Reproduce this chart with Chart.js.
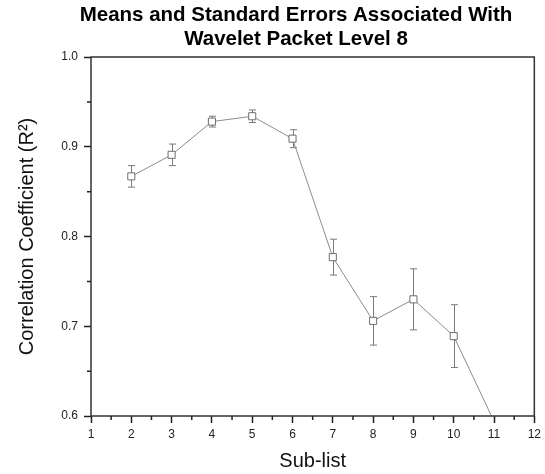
<!DOCTYPE html>
<html>
<head>
<meta charset="utf-8">
<script src="https://cdn.jsdelivr.net/npm/chart.js@4.4.0/dist/chart.umd.min.js"></script>
<style>
  html, body { margin: 0; padding: 0; background: #fff; }
  #wrap { width: 545px; height: 474px; }
</style>
</head>
<body>
<div id="wrap"><canvas id="myChart"></canvas></div>
<script>
// values
const subLists = [2, 3, 4, 5, 6, 7, 8, 9, 10, 11];
const means = [0.867, 0.891, 0.928, 0.934, 0.909, 0.777, 0.706, 0.730, 0.689, 0.594];
const stdErrors = [0.012, 0.012, 0.006, 0.007, 0.010, 0.020, 0.027, 0.034, 0.035, 0.030];
const xMinorTicks = [1.5, 2.5, 3.5, 4.5, 5.5, 6.5, 7.5, 8.5, 9.5, 10.5, 11.5];
const yMinorTicks = [0.65, 0.75, 0.85, 0.95];
const titleLines = ['Means and Standard Errors Associated With', 'Wavelet Packet Level 8'];

const FONT = "'Liberation Sans', Arial, sans-serif";

// error bars, frame, minor ticks and the title
const extras = {
  id: 'extras',
  beforeDatasetsDraw(chart) {
    const ctx = chart.ctx;
    const xs = chart.scales.x, ys = chart.scales.y;
    const area = chart.chartArea;
    ctx.save();
    ctx.beginPath();
    ctx.rect(area.left, area.top, area.right - area.left, area.bottom - area.top);
    ctx.clip();
    ctx.strokeStyle = '#7a7a7a';
    ctx.lineWidth = 1;
    subLists.forEach((s, i) => {
      // the original drops the bar of a mean that falls outside the axis
      if (means[i] < ys.min || means[i] > ys.max) return;
      const x = Math.round(xs.getPixelForValue(s)) + 0.5;
      const yTop = ys.getPixelForValue(means[i] + stdErrors[i]);
      const yBot = ys.getPixelForValue(means[i] - stdErrors[i]);
      ctx.beginPath();
      ctx.moveTo(x, yTop); ctx.lineTo(x, yBot);
      ctx.moveTo(x - 3.5, yTop); ctx.lineTo(x + 3.5, yTop);
      ctx.moveTo(x - 3.5, yBot); ctx.lineTo(x + 3.5, yBot);
      ctx.stroke();
    });
    ctx.restore();
  },
  afterDraw(chart) {
    const ctx = chart.ctx;
    const xs = chart.scales.x, ys = chart.scales.y;
    const a = chart.chartArea;
    ctx.save();
    ctx.strokeStyle = '#333';
    ctx.lineWidth = 1.5;
    ctx.strokeRect(a.left, a.top, a.right - a.left, a.bottom - a.top);
    ctx.strokeStyle = '#222';
    ctx.beginPath();
    xMinorTicks.forEach(v => {
      const x = xs.getPixelForValue(v);
      ctx.moveTo(x, a.bottom); ctx.lineTo(x, a.bottom + 4);
    });
    yMinorTicks.forEach(v => {
      const y = ys.getPixelForValue(v);
      ctx.moveTo(a.left, y); ctx.lineTo(a.left - 4, y);
    });
    ctx.stroke();

    // title sits a little left of the plot centre in the original
    ctx.fillStyle = '#000';
    ctx.font = "bold 20.5px " + FONT;
    ctx.textAlign = 'center';
    ctx.textBaseline = 'middle';
    titleLines.forEach((t, i) => ctx.fillText(t, 296, 15 + i * 24.5));
    ctx.restore();
  }
};

const ctx = document.getElementById('myChart').getContext('2d');
const myChart = new Chart(ctx, {
  type: 'line',
  data: {
    datasets: [{
      data: subLists.map((s, i) => ({ x: s, y: means[i] })),
      borderColor: '#8c8c8c',
      borderWidth: 1,
      pointStyle: 'rect',
      pointRadius: 5,
      pointBorderWidth: 1,
      pointBorderColor: '#6e6e6e',
      pointBackgroundColor: '#ffffff',
      tension: 0
    }]
  },
  options: {
    responsive: true,
    maintainAspectRatio: false,
    animation: false,
    layout: { padding: { left: 0, right: 9, top: 57, bottom: 0 } },
    plugins: {
      legend: { display: false },
      tooltip: { enabled: false },
      title: { display: false }
    },
    scales: {
      x: {
        type: 'linear',
        min: 1,
        max: 12,
        afterFit(scale) { scale.height = 58; },
        ticks: { stepSize: 1, color: '#222', padding: 4, font: { family: FONT, size: 12 } },
        grid: { drawOnChartArea: false, tickLength: 7, tickColor: '#222', tickWidth: 1.5 },
        border: { display: false },
        title: {
          display: true,
          text: 'Sub-list',
          color: '#111',
          font: { family: FONT, size: 20 },
          padding: { top: 0, bottom: 1 }
        }
      },
      y: {
        min: 0.6,
        max: 1.0,
        afterFit(scale) { scale.width = 91; },
        ticks: {
          stepSize: 0.1,
          color: '#222',
          padding: 6,
          font: { family: FONT, size: 12 },
          callback: v => v.toFixed(1)
        },
        grid: { drawOnChartArea: false, tickLength: 7, tickColor: '#222', tickWidth: 1.5 },
        border: { display: false },
        title: {
          display: true,
          text: 'Correlation Coefficient (R²)',
          color: '#111',
          font: { family: FONT, size: 20 },
          padding: { top: 15, bottom: 0 }
        }
      }
    }
  },
  plugins: [extras]
});
</script>
</body>
</html>
